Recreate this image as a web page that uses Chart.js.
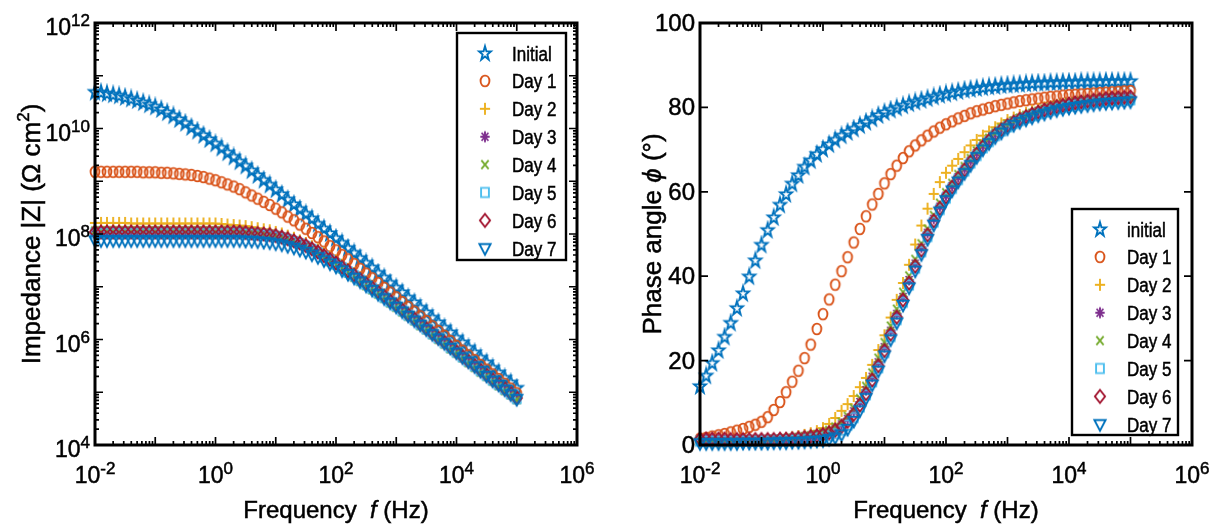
<!DOCTYPE html>
<html>
<head>
<meta charset="utf-8">
<script src="https://cdn.jsdelivr.net/npm/chart.js@4.4.1/dist/chart.umd.min.js"></script>
<style>
  html, body { margin: 0; padding: 0; background: #fff; }
  #wrap { position: relative; width: 1210px; height: 529px; }
  canvas { position: absolute; top: 0; }
</style>
</head>
<body>
<div id="wrap">
  <canvas id="bodeZ" width="605" height="529" style="left:0"></canvas>
  <canvas id="bodePhase" width="605" height="529" style="left:605px"></canvas>
</div>
<script>
// frequency points (Hz), 10 per decade
const freq = [
  0.01, 0.0126, 0.0158, 0.02, 0.0251, 0.0316, 0.0398, 0.0501, 0.0631, 0.0794,
  0.1, 0.126, 0.158, 0.2, 0.251, 0.316, 0.398, 0.501, 0.631, 0.794,
  1, 1.26, 1.58, 2, 2.51, 3.16, 3.98, 5.01, 6.31, 7.94,
  10, 12.6, 15.8, 20, 25.1, 31.6, 39.8, 50.1, 63.1, 79.4,
  100, 126, 158, 200, 251, 316, 398, 501, 631, 794,
  1000, 1260, 1580, 2000, 2510, 3160, 3980, 5010, 6310, 7940,
  10000, 12600, 15800, 20000, 25100, 31600, 39800, 50100, 63100, 79400,
  100000
];

// log10 |Z| (Ohm cm2)
const logZInitial = [
  10.70,10.69,10.67,10.65,10.63,10.60,10.57,10.54,10.50,10.46,
  10.42,10.37,10.31,10.25,10.18,10.11,10.03,9.96,9.88,9.80,
  9.72,9.64,9.55,9.47,9.38,9.30,9.21,9.12,9.03,8.94,
  8.85,8.76,8.66,8.57,8.48,8.39,8.30,8.20,8.11,8.02,
  7.93,7.84,7.74,7.65,7.55,7.46,7.37,7.27,7.18,7.08,
  6.99,6.90,6.80,6.71,6.61,6.52,6.42,6.33,6.23,6.14,
  6.04,5.95,5.85,5.76,5.66,5.57,5.47,5.38,5.28,5.19,
  5.09];
const logZDay1 = [
  9.18,9.18,9.18,9.18,9.18,9.18,9.18,9.18,9.17,9.17,
  9.17,9.16,9.16,9.15,9.14,9.13,9.12,9.10,9.08,9.05,
  9.02,8.98,8.94,8.90,8.85,8.79,8.73,8.67,8.61,8.55,
  8.48,8.41,8.33,8.26,8.18,8.10,8.02,7.94,7.86,7.77,
  7.69,7.60,7.52,7.43,7.34,7.25,7.16,7.07,6.98,6.89,
  6.80,6.71,6.62,6.53,6.44,6.35,6.25,6.16,6.07,5.97,
  5.88,5.79,5.70,5.61,5.52,5.43,5.34,5.25,5.16,5.07,
  4.98];
const logZDay2 = [
  8.21,8.21,8.21,8.21,8.21,8.21,8.20,8.20,8.20,8.20,
  8.20,8.20,8.20,8.20,8.20,8.20,8.20,8.20,8.20,8.20,
  8.20,8.19,8.18,8.17,8.16,8.15,8.13,8.11,8.09,8.07,
  8.04,8.01,7.97,7.93,7.88,7.83,7.77,7.71,7.64,7.57,
  7.50,7.42,7.34,7.26,7.18,7.10,7.02,6.93,6.85,6.76,
  6.68,6.59,6.50,6.42,6.33,6.24,6.15,6.06,5.98,5.89,
  5.80,5.71,5.62,5.53,5.44,5.35,5.26,5.17,5.09,5.00,
  4.91];
const logZDay3 = [
  8.05,8.05,8.05,8.05,8.05,8.05,8.05,8.05,8.05,8.05,
  8.05,8.05,8.05,8.05,8.05,8.05,8.05,8.05,8.05,8.05,
  8.05,8.05,8.05,8.05,8.05,8.04,8.03,8.02,8.01,8.00,
  7.98,7.95,7.92,7.88,7.84,7.79,7.73,7.67,7.60,7.53,
  7.46,7.38,7.31,7.23,7.15,7.07,6.99,6.90,6.82,6.74,
  6.65,6.57,6.48,6.39,6.30,6.22,6.13,6.04,5.95,5.86,
  5.78,5.69,5.60,5.51,5.42,5.34,5.25,5.16,5.07,4.99,
  4.90];
const logZDay4 = [
  8.06,8.06,8.06,8.06,8.06,8.06,8.06,8.06,8.06,8.06,
  8.06,8.06,8.06,8.06,8.06,8.06,8.06,8.06,8.06,8.06,
  8.06,8.06,8.06,8.05,8.05,8.04,8.03,8.02,8.00,7.98,
  7.96,7.93,7.89,7.85,7.80,7.75,7.69,7.62,7.55,7.48,
  7.41,7.34,7.26,7.18,7.10,7.02,6.94,6.86,6.78,6.69,
  6.61,6.52,6.44,6.35,6.26,6.18,6.09,6.00,5.91,5.82,
  5.74,5.65,5.56,5.47,5.38,5.30,5.21,5.12,5.03,4.95,
  4.86];
const logZDay5 = [
  8.01,8.01,8.01,8.01,8.01,8.01,8.01,8.01,8.01,8.01,
  8.01,8.01,8.01,8.01,8.01,8.01,8.01,8.01,8.01,8.01,
  8.01,8.01,8.01,8.01,8.01,8.00,8.00,7.99,7.98,7.97,
  7.95,7.92,7.89,7.85,7.81,7.76,7.70,7.64,7.57,7.50,
  7.43,7.36,7.28,7.21,7.13,7.05,6.97,6.89,6.80,6.72,
  6.64,6.55,6.46,6.38,6.29,6.20,6.11,6.03,5.94,5.85,
  5.76,5.67,5.59,5.50,5.41,5.32,5.23,5.15,5.06,4.97,
  4.88];
const logZDay6 = [
  8.04,8.04,8.04,8.04,8.04,8.04,8.04,8.04,8.04,8.04,
  8.04,8.04,8.04,8.04,8.04,8.04,8.04,8.04,8.04,8.04,
  8.04,8.04,8.04,8.04,8.04,8.03,8.02,8.01,8.00,7.99,
  7.97,7.94,7.91,7.87,7.83,7.78,7.72,7.66,7.59,7.52,
  7.45,7.37,7.30,7.22,7.14,7.06,6.98,6.90,6.82,6.73,
  6.65,6.56,6.47,6.39,6.30,6.21,6.12,6.03,5.95,5.86,
  5.77,5.68,5.59,5.51,5.42,5.33,5.24,5.16,5.07,4.98,
  4.89];
const logZDay7 = [
  7.88,7.88,7.88,7.88,7.88,7.88,7.88,7.88,7.88,7.88,
  7.88,7.88,7.88,7.88,7.88,7.88,7.88,7.88,7.88,7.88,
  7.88,7.88,7.88,7.88,7.88,7.87,7.87,7.86,7.85,7.84,
  7.82,7.80,7.77,7.74,7.70,7.66,7.61,7.56,7.50,7.44,
  7.38,7.31,7.24,7.17,7.10,7.02,6.94,6.86,6.78,6.70,
  6.62,6.53,6.45,6.36,6.28,6.19,6.10,6.02,5.93,5.84,
  5.75,5.66,5.58,5.49,5.40,5.31,5.22,5.14,5.05,4.96,
  4.87];

// phase angle (deg)
const phaseInitial = [
  14.0,16.5,19.5,22.5,25.7,29.0,32.5,36.0,40.0,43.8,
  47.5,51.0,54.0,57.0,59.5,62.0,64.0,66.0,67.5,69.0,
  70.2,71.3,72.4,73.4,74.2,75.0,75.8,76.6,77.4,78.2,
  78.9,79.5,80.0,80.5,81.0,81.4,81.8,82.2,82.6,83.0,
  83.3,83.6,83.9,84.2,84.4,84.6,84.8,85.0,85.1,85.3,
  85.4,85.5,85.6,85.7,85.8,85.9,85.9,86.0,86.0,86.1,
  86.1,86.1,86.2,86.2,86.2,86.2,86.3,86.3,86.3,86.3,
  86.3];
const phaseDay1 = [
  1.5,1.7,2.0,2.3,2.6,3.0,3.4,3.8,4.3,4.8,
  5.5,6.6,8.3,10.2,12.5,15.0,17.6,20.6,23.8,27.5,
  31.0,34.5,38.0,41.2,44.5,48.0,51.2,54.2,57.0,59.5,
  62.0,64.2,66.2,68.0,69.6,71.0,72.2,73.3,74.3,75.2,
  76.0,76.7,77.4,78.0,78.6,79.1,79.5,79.9,80.3,80.6,
  80.9,81.2,81.5,81.7,81.9,82.1,82.3,82.5,82.6,82.8,
  82.9,83.0,83.1,83.2,83.3,83.4,83.5,83.6,83.7,83.8,
  83.9];
const phaseDay2 = [
  0.6,0.6,0.6,0.7,0.7,0.7,0.8,0.8,0.9,0.9,
  1.0,1.1,1.2,1.4,1.6,1.8,2.1,2.4,2.8,3.3,
  4.0,5.0,6.4,8.1,9.7,11.6,13.7,15.9,19.0,22.5,
  26.0,30.2,34.4,38.4,42.7,47.5,52.0,56.0,59.5,62.3,
  64.5,66.2,67.8,69.4,71.0,72.3,73.3,74.3,75.3,76.2,
  77.0,77.6,78.2,78.7,79.2,79.6,80.0,80.3,80.6,80.9,
  81.1,81.3,81.5,81.6,81.7,81.8,81.9,82.0,82.0,82.1,
  82.1];
const phaseDay3 = [
  1.4,1.4,1.4,1.3,1.3,1.3,1.3,1.3,1.3,1.3,
  1.3,1.3,1.4,1.4,1.5,1.6,1.7,1.9,2.1,2.4,
  2.7,3.2,3.9,4.9,6.2,8.0,10.2,13.0,16.2,19.6,
  23.2,27.1,31.1,35.1,39.1,43.0,46.8,50.3,53.6,56.5,
  59.1,61.4,63.5,65.5,67.4,69.2,70.9,72.3,73.7,74.8,
  75.8,76.6,77.3,77.9,78.5,79.0,79.5,79.9,80.3,80.6,
  80.9,81.2,81.4,81.6,81.8,82.0,82.1,82.2,82.3,82.4,
  82.5];
const phaseDay4 = [
  1.2,1.2,1.2,1.2,1.2,1.2,1.2,1.2,1.2,1.2,
  1.2,1.3,1.3,1.4,1.5,1.6,1.8,2.0,2.2,2.5,
  2.9,3.5,4.3,5.4,6.8,8.7,11.0,13.9,17.1,20.6,
  24.3,28.2,32.2,36.2,40.1,44.0,47.7,51.2,54.4,57.3,
  59.8,62.0,64.1,66.0,67.9,69.7,71.3,72.7,74.0,75.1,
  76.0,76.8,77.5,78.1,78.6,79.1,79.6,80.0,80.4,80.7,
  81.0,81.2,81.4,81.6,81.8,82.0,82.1,82.2,82.3,82.3,
  82.4];
const phaseDay5 = [
  0.9,0.9,0.9,0.9,0.9,0.9,0.9,1.0,1.0,1.0,
  1.0,1.0,1.1,1.1,1.1,1.2,1.2,1.3,1.4,1.6,
  1.8,2.2,2.7,3.5,4.7,6.5,9.0,11.9,15.0,18.3,
  21.9,25.7,29.7,33.8,37.9,41.9,45.8,49.4,52.8,55.8,
  58.5,60.8,62.9,64.9,66.8,68.6,70.4,71.9,73.3,74.4,
  75.4,76.2,76.9,77.5,78.0,78.5,78.9,79.3,79.7,80.0,
  80.3,80.5,80.7,80.9,81.1,81.3,81.4,81.5,81.6,81.7,
  81.8];
const phaseDay6 = [
  1.4,1.4,1.4,1.4,1.4,1.3,1.3,1.3,1.3,1.3,
  1.3,1.3,1.3,1.4,1.4,1.5,1.6,1.8,2.0,2.2,
  2.5,2.9,3.5,4.4,5.6,7.3,9.5,12.2,15.4,18.8,
  22.4,26.3,30.3,34.4,38.4,42.4,46.2,49.8,53.1,56.1,
  58.8,61.1,63.2,65.2,67.1,69.0,70.7,72.2,73.6,74.7,
  75.7,76.5,77.2,77.8,78.4,78.9,79.4,79.8,80.2,80.5,
  80.8,81.1,81.3,81.5,81.7,81.9,82.1,82.2,82.3,82.4,
  82.5];
const phaseDay7 = [
  0.4,0.4,0.4,0.4,0.4,0.4,0.4,0.5,0.5,0.5,
  0.5,0.5,0.6,0.6,0.6,0.7,0.7,0.8,0.9,1.0,
  1.1,1.4,1.8,2.5,3.8,5.7,8.2,11.1,14.3,17.6,
  21.2,25.0,29.0,33.2,37.3,41.3,45.2,48.8,52.2,55.3,
  58.0,60.3,62.4,64.4,66.3,68.2,70.0,71.5,72.9,74.0,
  75.0,75.8,76.5,77.1,77.6,78.1,78.5,78.9,79.3,79.6,
  79.9,80.1,80.3,80.5,80.7,80.9,81.0,81.1,81.2,81.3,
  81.4];

const namesZ = ['Initial', 'Day 1', 'Day 2', 'Day 3', 'Day 4', 'Day 5', 'Day 6', 'Day 7'];
const namesPhase = ['initial', 'Day 1', 'Day 2', 'Day 3', 'Day 4', 'Day 5', 'Day 6', 'Day 7'];
const xTickExps = [-2, 0, 2, 4, 6];
const zTickExps = [4, 6, 8, 10, 12];
const phaseTicks = [0, 20, 40, 60, 80, 100];

const colors = ['#0072BD', '#D95319', '#EDB120', '#7E2F8E', '#77AC30', '#4DBEEE', '#A2142F', '#0072BD'];
const kinds = ['pentagram', 'circle', 'plus', 'asterisk', 'cross', 'square', 'diamond', 'tridown'];

const MX = 0.85; // markers look a little narrower than tall
const FONT = '"Liberation Sans", Arial, Helvetica, sans-serif';

// marker images (MATLAB style)
function makeMarker(kind, color) {
  const S = 20;
  const c = document.createElement('canvas');
  c.width = S; c.height = S;
  const g = c.getContext('2d');
  g.translate(S / 2, S / 2);
  g.strokeStyle = color; g.fillStyle = color; g.lineWidth = 1.9;
  g.beginPath();
  if (kind === 'pentagram') {
    for (let i = 0; i < 10; i++) {
      const ang = -Math.PI / 2 + i * Math.PI / 5;
      const r = i % 2 ? 2.9 : 7.4;
      const px = Math.cos(ang) * r * MX, py = Math.sin(ang) * r + 0.6;
      i ? g.lineTo(px, py) : g.moveTo(px, py);
    }
    g.closePath();
  } else if (kind === 'circle') {
    g.ellipse(0, 0, 5.2 * MX, 5.4, 0, 0, Math.PI * 2);
  } else if (kind === 'plus') {
    g.moveTo(-6 * MX, 0); g.lineTo(6 * MX, 0);
    g.moveTo(0, -6); g.lineTo(0, 6);
  } else if (kind === 'asterisk') {
    g.moveTo(-5.5 * MX, 0); g.lineTo(5.5 * MX, 0);
    g.moveTo(0, -5.5); g.lineTo(0, 5.5);
    g.moveTo(-4 * MX, -4); g.lineTo(4 * MX, 4);
    g.moveTo(-4 * MX, 4); g.lineTo(4 * MX, -4);
  } else if (kind === 'cross') {
    g.moveTo(-4.3 * MX, -4.3); g.lineTo(4.3 * MX, 4.3);
    g.moveTo(-4.3 * MX, 4.3); g.lineTo(4.3 * MX, -4.3);
  } else if (kind === 'square') {
    g.rect(-4.6 * MX, -4.6, 9.2 * MX, 9.2);
  } else if (kind === 'diamond') {
    g.moveTo(0, -6.5); g.lineTo(6 * MX, 0); g.lineTo(0, 6.5); g.lineTo(-6 * MX, 0);
    g.closePath();
  } else if (kind === 'tridown') {
    g.moveTo(-6.6 * MX, -4.2); g.lineTo(6.6 * MX, -4.2); g.lineTo(0, 6.4);
    g.closePath();
  }
  g.stroke();
  return c;
}
const markers = kinds.map((k, i) => makeMarker(k, colors[i]));

function setFont(ctx, size, italic) {
  ctx.font = (italic ? 'italic ' : '') + size + 'px ' + FONT;
}
function txt(ctx, s, x, y, size, align, italic, sx) {
  ctx.save();
  ctx.translate(x, y);
  if (sx) ctx.scale(sx, 1);
  setFont(ctx, size, italic);
  ctx.textAlign = align || 'left';
  ctx.textBaseline = 'alphabetic';
  ctx.fillStyle = '#000';
  ctx.strokeStyle = '#000';
  ctx.lineWidth = 0.5;
  ctx.fillText(s, 0, 0);
  ctx.strokeText(s, 0, 0);
  ctx.restore();
}
function tw(ctx, s, size, italic) {
  ctx.save();
  setFont(ctx, size, italic);
  const w = ctx.measureText(s).width;
  ctx.restore();
  return w;
}
function drawPow(ctx, e, x, base, align) {
  const bw = tw(ctx, '10', 23), ew = tw(ctx, String(e), 17);
  let left = x;
  if (align === 'center') left = x - (bw + ew) / 2;
  if (align === 'right') left = x - bw - ew;
  txt(ctx, '10', left, base, 23, 'left');
  txt(ctx, String(e), left + bw, base - 9, 17, 'left');
}
// parts: [text, style] with style '', 'i' (italic) or 's' (superscript)
function drawParts(ctx, parts, size, cx, base, rotated) {
  const sz = p => (p[1] === 's' ? Math.round(size * 0.65) : size);
  const widths = parts.map(p => tw(ctx, p[0], sz(p), p[1] === 'i'));
  const total = widths.reduce((a, b) => a + b, 0);
  ctx.save();
  ctx.translate(cx, base);
  if (rotated) ctx.rotate(-Math.PI / 2);
  let pos = -total / 2;
  parts.forEach((p, i) => {
    txt(ctx, p[0], pos, p[1] === 's' ? -size * 0.42 : 0, sz(p), 'left', p[1] === 'i');
    pos += widths[i];
  });
  ctx.restore();
}

const framePlugin = {
  id: 'frame',
  afterDraw(chart, args, o) {
    const ctx = chart.ctx, a = chart.chartArea;
    const xs = chart.scales.x, ys = chart.scales.y;
    ctx.save();
    ctx.strokeStyle = '#000';
    ctx.lineWidth = 1.7;
    ctx.beginPath();
    const tickX = (px, len) => {
      ctx.moveTo(px, a.bottom); ctx.lineTo(px, a.bottom - len);
      ctx.moveTo(px, a.top); ctx.lineTo(px, a.top + len);
    };
    const tickY = (py, len) => {
      ctx.moveTo(a.left, py); ctx.lineTo(a.left + len, py);
      ctx.moveTo(a.right, py); ctx.lineTo(a.right - len, py);
    };
    for (let d = -2; d <= 6; d++) {
      tickX(xs.getPixelForValue(Math.pow(10, d)), 8);
      if (d < 6) for (let m = 2; m < 10; m++) tickX(xs.getPixelForValue(m * Math.pow(10, d)), 4);
    }
    if (o.logY) {
      for (let d = 4; d <= 12; d++) {
        tickY(ys.getPixelForValue(Math.pow(10, d)), 8);
        if (d < 12) for (let m = 2; m < 10; m++) tickY(ys.getPixelForValue(m * Math.pow(10, d)), 4);
      }
    } else {
      phaseTicks.forEach(v => tickY(ys.getPixelForValue(v), 8));
    }
    ctx.stroke();
    ctx.lineWidth = 3;
    ctx.strokeRect(a.left, a.top, a.right - a.left, a.bottom - a.top);

    // tick labels
    xTickExps.forEach(e => drawPow(ctx, e, xs.getPixelForValue(Math.pow(10, e)), a.bottom + 38, 'center'));
    if (o.logY) {
      zTickExps.forEach(e => drawPow(ctx, e, a.left - 5, ys.getPixelForValue(Math.pow(10, e)) + 12, 'right'));
    } else {
      phaseTicks.forEach(v => txt(ctx, String(v), a.left - 5, ys.getPixelForValue(v) + 8, 24, 'right'));
    }

    // axis titles
    drawParts(ctx, [['Frequency  ', ''], ['f', 'i'], [' (Hz)', '']], 24, (a.left + a.right) / 2, 518, false);
    drawParts(ctx, o.yTitle, 26, o.yTitleX, (a.top + a.bottom) / 2, true);

    // legend
    const L = o.legend;
    ctx.fillStyle = '#fff';
    ctx.fillRect(L.x, L.y, L.w, L.h);
    ctx.lineWidth = 2.4;
    ctx.strokeStyle = '#000';
    ctx.strokeRect(L.x, L.y, L.w, L.h);
    o.names.forEach((n, i) => {
      const cy = L.y + 20 + i * 27.9;
      ctx.drawImage(markers[i], L.x + 28 - 10, cy - 10);
      txt(ctx, n, L.x + 55, cy + 7.5, 20, 'left', false, 0.85);
    });
    ctx.restore();
  }
};

function buildDatasets(series, names, toY) {
  return series.map((vals, i) => ({
    label: names[i],
    data: freq.map((f, k) => ({ x: f, y: toY(vals[k]) })),
    pointStyle: markers[i],
    pointRadius: 6,
    showLine: false,
    clip: false,
    order: series.length - 1 - i
  }));
}

function makeChart(id, datasets, yScale, frameOpts, padRight) {
  return new Chart(document.getElementById(id).getContext('2d'), {
    type: 'scatter',
    data: { datasets: datasets },
    options: {
      responsive: false,
      animation: false,
      events: [],
      layout: { padding: { left: 0, right: padRight, top: 23, bottom: 0 } },
      scales: {
        x: {
          type: 'logarithmic', min: 0.01, max: 1e6,
          grid: { display: false }, border: { display: false }, ticks: { display: false },
          afterFit: s => { s.height = 84; }
        },
        y: Object.assign({
          grid: { display: false }, border: { display: false }, ticks: { display: false },
          afterFit: s => { s.width = 95; }
        }, yScale)
      },
      plugins: { legend: { display: false }, tooltip: { enabled: false }, frame: frameOpts }
    },
    plugins: [framePlugin]
  });
}

const zSeries = [logZInitial, logZDay1, logZDay2, logZDay3, logZDay4, logZDay5, logZDay6, logZDay7];
const phaseSeries = [phaseInitial, phaseDay1, phaseDay2, phaseDay3, phaseDay4, phaseDay5, phaseDay6, phaseDay7];

makeChart('bodeZ', buildDatasets(zSeries, namesZ, v => Math.pow(10, v)),
  { type: 'logarithmic', min: 1e4, max: 1e12 },
  {
    logY: true,
    yTitle: [['Impedance |Z| (\u03A9 cm', ''], ['2', 's'], [')', '']],
    yTitleX: 40,
    names: namesZ,
    legend: { x: 457, y: 33, w: 109, h: 227 }
  }, 28);

makeChart('bodePhase', buildDatasets(phaseSeries, namesPhase, v => v),
  { type: 'linear', min: 0, max: 100 },
  {
    logY: false,
    yTitle: [['Phase angle ', ''], ['\u03D5', 'i'], [' (\u00B0)', '']],
    yTitleX: 56,
    names: namesPhase,
    legend: { x: 467, y: 209, w: 106, h: 226 }
  }, 18);
</script>
</body>
</html>
